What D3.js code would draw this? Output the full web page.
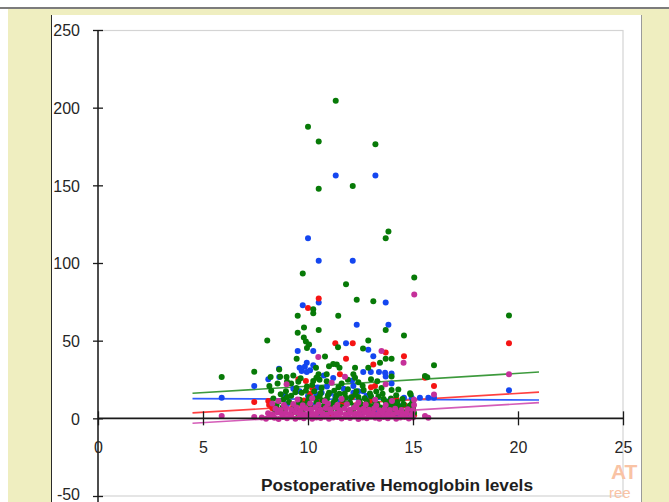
<!DOCTYPE html>
<html>
<head>
<meta charset="utf-8">
<script src="https://cdn.jsdelivr.net/npm/d3@7"></script>
<style>
  html, body { margin: 0; padding: 0; background: #fff; }
  svg { display: block; }
</style>
</head>
<body>
<svg id="chart" width="669" height="502"></svg>
<script>
/* scatter: postoperative hemoglobin vs outcome, 4 series + linear trendlines */
var X_TICKS = [0, 5, 10, 15, 20, 25];
var Y_TICKS = [-50, 0, 50, 100, 150, 200, 250];
var X_TITLE = 'Postoperative  Hemoglobin levels';

var bluePts = [
  [10.0,115.9],[11.32,156.4],[13.21,156.4],[10.51,101.5],[12.13,101.5],[10.51,74.5],[9.75,72.8],[13.7,74.5],
  [12.32,60.2],[13.83,60.2],[11.81,48.4],[12.87,44.1],[10.25,43.3],[9.51,43.3],[13.11,40],[9.94,35.8],
  [10.25,34.1],[9.7,30.4],[9.94,29.8],[9.6,32.5],[9.85,33.2],[10.1,31],[8.62,31.9],[8.11,25.1],[8.63,26.6],
  [12.63,29.8],[12.99,29.8],[13.38,29.8],[13.67,29.4],[13.98,28.9],[13.7,27],[13.98,22.5],[12.16,20.8],
  [12.16,16.5],[12.4,17.5],[12.63,17.5],[12.79,14.3],[13.98,10.1],[14.57,13.3],[14.94,13.3],[15.33,13.3],
  [15.73,13.3],[16.0,13.3],[19.57,18.0],[5.89,13.3],[7.44,20.8],[8.16,11.1],[9.6,17.5],[10.0,14.3],
  [10.39,15.4],[10.65,16.5],[11.05,16],[11.3,14],[9.3,19],[10.9,20.5],[11.7,19],[9.0,9],[10.2,8.5],
  [11.4,6],[12.5,3],[13.2,4],[14.0,4],[14.35,2],[14.7,1.5],[13.6,3.5],[9.8,2],[10.6,1],[11.9,1.5],
  [12.1,24.3],[11.2,26],[10.75,27.5],[8.9,14.8],[10.45,19.8],[11.55,10.8],[12.9,7.2],[14.4,7.8]
];
var redPts = [
  [10.51,77.1],[10.0,71.1],[11.3,48.4],[12.13,48.4],[13.7,42.4],[11.81,38.4],[14.57,40],[13.11,34.7],
  [11.52,28.3],[13.19,20.8],[9.54,25.1],[8.11,11.1],[8.15,8.6],[8.3,6.5],[10.49,10.5],[10.87,10.2],
  [12.95,11.1],[13.9,10.5],[13.5,5.8],[16.0,20.8],[15.57,26.2],[19.57,48.4],[7.44,10.5],[9.3,8],
  [9.8,11.5],[10.2,19.5],[11.6,9],[12.1,13.5],[12.4,7],[11.1,2.5],[13.0,20],[14.6,8.5],[15.0,5.5],
  [15.05,2],[9.2,2.5],[9.9,24],[10.1,15.8],[14.2,12.5]
];
var greenPts = [
  [11.32,204.4],[10.0,187.7],[10.51,178.2],[13.21,176.5],[10.51,147.8],[12.13,149.5],[13.83,120.2],[13.7,115.9],
  [9.75,93.2],[11.81,86.3],[15.06,90.6],[12.32,76.3],[13.11,75.4],[10.25,70.3],[10.25,67.7],[9.51,66.0],
  [11.44,66.0],[13.7,56.8],[14.57,53.3],[9.81,58.5],[10.51,56.8],[9.51,55.1],[8.06,50.1],[9.8,52],
  [9.9,49.5],[10.05,47.5],[9.95,45.2],[11.43,45.8],[12.87,50.1],[12.62,45],[10.81,39.8],[13.7,38.4],
  [13.98,38.4],[9.46,38.4],[13.43,35.8],[10.38,32.6],[10.5,28.3],[11.37,34.7],[11.0,33.5],[11.2,35],
  [11.5,32.6],[12.24,32.6],[12.87,32.6],[12.16,28.3],[12.24,26.2],[10.89,28.3],[13.0,25.1],[13.98,27],
  [15.57,27.2],[15.68,26.5],[16.0,34.1],[19.57,66.2],[5.89,26.6],[7.44,30],[8.63,31.5],[8.22,26.6],
  [8.67,26.8],[8.98,26.6],[8.16,20.8],[9.0,23.5],[9.2,22.5],[9.54,23.5],[10.25,24],[10.55,24.8],
  [10.89,23.8],[13.98,18.2],[14.86,16.1],[14.89,15.4],
  [8.35,12.7],[8.83,12.2],[8.5,8.5],[8.7,15.5],[8.95,17.5],[9.1,10.5],[9.2,14.5],[9.35,7.5],[9.45,19.5],
  [9.6,12],[9.7,16.5],[9.8,9],[9.95,20.5],[10.05,13.5],[10.15,6.5],[10.3,17.5],[10.4,10.5],[10.55,14],
  [10.65,19.5],[10.75,8],[10.9,12.5],[11.0,16.5],[11.1,5.5],[11.2,10],[11.35,14.5],[11.45,20],[11.55,7.5],
  [11.65,12],[11.75,16],[11.85,9.5],[11.95,4.5],[12.05,13.5],[12.2,8],[12.3,17.5],[12.45,11],[12.55,6],
  [12.7,13],[12.85,8.5],[12.95,16],[13.1,5],[13.2,10.5],[13.35,14],[13.45,7],[13.6,12.5],[13.75,5.5],
  [13.85,9],[14.0,6.5],[14.15,3.5],[14.3,8],[14.45,5],[14.6,3],[14.75,6.5],[14.9,4.5],[15.0,7],
  [15.05,3.5],[14.95,9.5],[11.6,22.5],[12.6,21],[10.2,21.5],[8.9,5.5],[9.5,3.5],[10.5,4],[12.9,3],
  [13.4,2.5],[14.1,9.8],
  [8.45,4.5],[8.6,10.8],[8.8,7.2],[9.0,13.8],[9.25,4.8],[9.4,16.8],[9.55,9.8],[9.75,5.2],[9.9,17.8],
  [10.0,11.2],[10.1,8.8],[10.35,12.8],[10.45,7.2],[10.6,16.2],[10.7,11.5],[10.85,5.2],[10.95,14.8],
  [11.05,8.2],[11.25,17.8],[11.3,12.2],[11.4,3.8],[11.5,15.8],[11.7,6.8],[11.8,13.2],[11.9,18.8],
  [12.0,10.2],[12.15,5.5],[12.25,15.2],[12.4,13.8],[12.5,9.2],[12.65,18.2],[12.75,4.8],[12.8,11.2],
  [13.0,14.2],[13.05,7.8],[13.25,17.2],[13.3,9.2],[13.5,4.2],[13.55,15.8],[13.7,10.8],[13.95,12.8],
  [14.05,8.2],[14.25,10.5],[14.4,6.8],[14.55,9.2],[14.7,4.2],[14.85,8.2],[15.0,10.8],[14.2,14.8],
  [14.5,12.5],[8.25,17.8],[8.55,22.5],[9.3,27.5],[9.65,25.8],[10.4,26.2],[11.9,24.8],[12.4,23.2],
  [13.3,23.8],[13.5,19.5],[14.3,18.5]
];
var magentaPts = [
  [15.06,79.7],[13.5,43.3],[14.55,35.8],[10.49,39.5],[11.76,26.8],[8.98,21.9],[11.13,22.9],[13.7,21.9],
  [8.59,11.1],[16.0,15.4],[19.57,28.3],[5.89,1.5],[7.44,0.8],[15.57,1.5],[15.73,0.4],
  [9.5,12.2],[10.2,13],[10.8,11],[11.6,12.4],[12.4,10.2],[13.2,12],[14.0,11.2],[15.05,12],
  [7.8,0.6],[8.0,-0.2],[8.2,1.0],[8.4,0.3],[8.6,-0.4],[8.8,0.9],[9.0,0.1],[9.2,1.2],[9.4,-0.3],
  [9.6,0.7],[9.8,0.0],[10.0,1.1],[10.2,-0.2],[10.4,0.6],[10.6,0.2],[10.8,1.0],[11.0,-0.3],[11.2,0.5],
  [11.4,0.9],[11.6,-0.1],[11.8,0.8],[12.0,0.2],[12.2,1.2],[12.4,-0.4],[12.6,0.6],[12.8,0.0],[13.0,1.0],
  [13.2,0.3],[13.4,-0.2],[13.6,0.8],[13.8,0.1],[14.0,1.1],[14.2,-0.3],[14.4,0.5],[14.6,0.9],[14.8,-0.1],
  [15.0,0.6],
  [8.1,3.2],[8.3,2.6],[8.55,3.8],[8.75,2.9],[8.95,3.5],[9.15,2.5],[9.4,3.9],[9.6,3.0],[9.8,2.6],
  [10.05,3.6],[10.25,2.8],[10.45,3.9],[10.7,3.1],[10.9,2.5],[11.1,3.7],[11.35,2.9],[11.55,3.5],[11.8,2.6],
  [12.0,3.8],[12.25,3.0],[12.45,2.7],[12.7,3.6],[12.9,2.9],[13.1,3.4],[13.35,2.6],[13.55,3.7],[13.8,3.0],
  [14.05,2.7],[14.25,3.6],[14.5,2.9],[14.7,3.3],[14.95,2.6],
  [8.45,6.2],[8.7,5.4],[8.95,6.6],[9.2,5.6],[9.45,6.9],[9.65,5.3],[9.9,6.4],[10.15,5.7],[10.35,7.0],
  [10.6,5.5],[10.85,6.6],[11.05,5.8],[11.3,6.9],[11.5,5.4],[11.75,6.3],[12.0,5.6],[12.2,6.8],[12.45,5.3],
  [12.65,6.2],[12.9,5.5],[13.15,6.4],[13.4,5.2],[13.65,6.0],[13.9,5.4],[14.15,6.1],[14.45,5.3],[14.75,5.8],
  [15.0,5.2],
  [8.85,8.6],[9.3,9.2],[9.75,8.4],[10.1,9.6],[10.5,8.8],[10.95,9.4],[11.4,8.6],[11.85,9.1],[12.3,8.3],
  [12.75,8.9],[13.25,8.2],[13.7,8.6],[15.05,8.6],[8.3,9.5]
];

// fitted trendlines, endpoints at x = 4.5 and 21
var trendX = [4.5, 21];
var greenTrend = [16.1, 29.8];
var blueTrend = [12.7, 11.8];
var redTrend = [3.5, 16.9];
var magentaTrend = [-3.2, 10.1];

var SERIES = [
  { pts: bluePts, trend: blueTrend, color: '#1446f0', line: '#2f5cff' },
  { pts: redPts, trend: redTrend, color: '#f51414', line: '#ff4040' },
  { pts: greenPts, trend: greenTrend, color: '#077a07', line: '#3d9a3d' },
  { pts: magentaPts, trend: magentaTrend, color: '#c5309a', line: '#d45cb8' }
];

(function () {
  var svg = d3.select('#chart');
  var FONT = '"Liberation Sans", Arial, sans-serif';

  // page frame
  svg.append('rect').attr('x', 0).attr('y', 0).attr('width', 669).attr('height', 502).attr('fill', '#fff');
  svg.append('rect').attr('x', 8).attr('y', 9).attr('width', 661).attr('height', 493).attr('fill', '#efeec0');
  svg.append('rect').attr('x', 0).attr('y', 7).attr('width', 669).attr('height', 2).attr('fill', '#7c7c7c');
  svg.append('rect').attr('x', 51).attr('y', 15).attr('width', 590).attr('height', 487).attr('fill', '#fff');
  svg.append('line').attr('x1', 51.5).attr('x2', 51.5).attr('y1', 15).attr('y2', 502).attr('stroke', '#2a2a2a').attr('stroke-width', 1);
  svg.append('line').attr('x1', 641.5).attr('x2', 641.5).attr('y1', 15).attr('y2', 502).attr('stroke', '#9a9a9a').attr('stroke-width', 1);

  var x = d3.scaleLinear().domain([0, 25]).range([98, 623]);
  var y = d3.scaleLinear().domain([-50, 250]).range([496, 30]);

  // plot area border
  svg.append('rect').attr('x', 98).attr('y', 30.5).attr('width', 525).attr('height', 465.5)
    .attr('fill', 'none').attr('stroke', '#d4d4d4').attr('stroke-width', 1.2);

  // watermark
  var wm = svg.append('g').attr('fill', '#f9c3a5').attr('font-family', FONT);
  wm.append('text').attr('x', 611).attr('y', 479).attr('font-size', 21).attr('font-weight', 'bold').text('AT');
  wm.append('text').attr('x', 609).attr('y', 498).attr('font-size', 15).text('ree');

  // trendlines
  var gL = svg.append('g');
  SERIES.forEach(function (s) {
    gL.append('line')
      .attr('x1', x(trendX[0])).attr('y1', y(s.trend[0]))
      .attr('x2', x(trendX[1])).attr('y2', y(s.trend[1]))
      .attr('stroke', s.line).attr('stroke-width', 1.6);
  });

  // points
  SERIES.forEach(function (s) {
    svg.append('g').selectAll('circle').data(s.pts).enter().append('circle')
      .attr('cx', function (d) { return x(d[0]); })
      .attr('cy', function (d) { return y(d[1]); })
      .attr('r', 3).attr('fill', s.color);
  });

  function fmt(d) { return String(d); } // plain hyphen for -50

  // y axis (ticks cross the line)
  var yAx = svg.append('g').attr('transform', 'translate(' + x(0) + ',0)')
    .call(d3.axisLeft(y).tickValues(Y_TICKS).tickFormat(fmt).tickSize(5).tickSizeOuter(0).tickPadding(13));
  yAx.select('.domain').remove();
  yAx.append('line').attr('x1', 0).attr('x2', 0).attr('y1', y(250)).attr('y2', 502).attr('stroke', '#1a1a1a').attr('stroke-width', 1.5);
  yAx.selectAll('.tick line').attr('x1', -5).attr('x2', 5).attr('stroke', '#1a1a1a').attr('stroke-width', 1.3);
  yAx.selectAll('.tick text').attr('font-family', FONT).attr('font-size', 16).attr('fill', '#262626')
    .attr('dy', function (d) { return d === -50 ? '0.2em' : '0.36em'; });

  // x axis through y = 0
  var xAx = svg.append('g').attr('transform', 'translate(0,' + y(0) + ')')
    .call(d3.axisBottom(x).tickValues(X_TICKS).tickFormat(fmt).tickSize(6).tickSizeOuter(0).tickPadding(17));
  xAx.select('.domain').remove();
  xAx.append('line').attr('x1', x(0)).attr('x2', x(25)).attr('y1', 0).attr('y2', 0).attr('stroke', '#1a1a1a').attr('stroke-width', 1.8);
  xAx.selectAll('.tick line').attr('y1', -7).attr('y2', 7).attr('stroke', '#1a1a1a').attr('stroke-width', 1.3);
  xAx.selectAll('.tick text').attr('font-family', FONT).attr('font-size', 16).attr('fill', '#262626');

  svg.append('text').attr('x', 397).attr('y', 491).attr('text-anchor', 'middle')
    .attr('font-family', FONT).attr('font-size', 16).attr('font-weight', 'bold').attr('fill', '#1e1e1e')
    .attr('textLength', 272).attr('lengthAdjust', 'spacingAndGlyphs')
    .text(X_TITLE);
})();
</script>
</body>
</html>
